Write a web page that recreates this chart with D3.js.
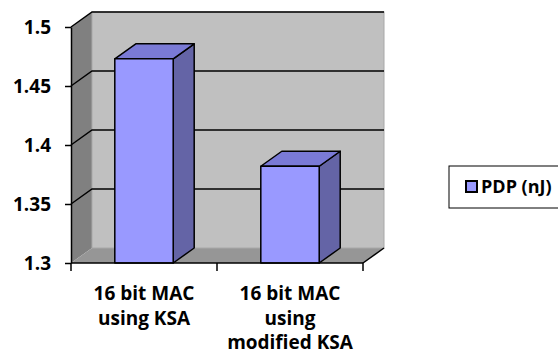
<!DOCTYPE html>
<html>
<head>
<meta charset="utf-8">
<script src="https://cdn.jsdelivr.net/npm/d3@7"></script>
<style>
    body { margin: 0; background: #fff; }
    text { font-family: "Open Sans", sans-serif; font-weight: bold; fill: #000; }
</style>
</head>
<body>
<svg id="chart" width="558" height="358"></svg>
<script>
    // chart data
    var categories = ["16 bit MAC using KSA", "16 bit MAC using modified KSA"];
    var categoryLines = [["16 bit MAC", "using KSA"], ["16 bit MAC", "using", "modified KSA"]];
    var pdpValues = [1.473, 1.382];
    var yTicks = [1.3, 1.35, 1.4, 1.45, 1.5];
    var seriesName = "PDP (nJ)";

    var svg = d3.select("#chart"),
        width = +svg.attr("width"),
        height = +svg.attr("height");

    // depth of the 3d box
    var dx = 21, dy = -15;
    var plotLeft = 71, plotRight = 363, plotTop = 27, plotBottom = 263;

    var y = d3.scaleLinear().domain([1.3, 1.5]).range([plotBottom, plotTop]);
    var x = d3.scaleBand().domain(categories).range([plotLeft, plotRight])
        .paddingInner(0.6).paddingOuter(0.3);

    svg.append("rect").attr("width", width).attr("height", height).style("fill", "#fff");

    function poly(pts) {
        return "M" + pts.map(function (p) { return p.join(","); }).join("L") + "Z";
    }

    var yMin = y.range()[0], yMax = y.range()[1];

    // walls and floor
    svg.append("path")
        .attr("d", poly([[plotLeft, yMax], [plotLeft + dx, yMax + dy], [plotLeft + dx, yMin + dy], [plotLeft, yMin]]))
        .style("fill", "#808080");
    svg.append("path")
        .attr("d", poly([[plotLeft, yMin], [plotLeft + dx, yMin + dy], [plotRight + dx, yMin + dy], [plotRight, yMin]]))
        .style("fill", "#969696");
    svg.append("rect")
        .attr("x", plotLeft + dx).attr("y", yMax + dy)
        .attr("width", plotRight - plotLeft).attr("height", yMin - yMax)
        .style("fill", "#c0c0c0")
        .style("stroke", "#a8a8a8")
        .style("stroke-width", 1);

    // gridlines on back wall + left wall
    var grid = svg.append("g").style("stroke", "#000").style("stroke-width", 1.5).style("fill", "none");
    grid.selectAll("path.grid")
        .data(yTicks.filter(function (d) { return d > 1.3; }))
        .enter().append("path")
        .attr("class", "grid")
        .attr("d", function (d) {
            return "M" + plotLeft + "," + y(d) + "L" + (plotLeft + dx) + "," + (y(d) + dy) +
                "L" + (plotRight + dx) + "," + (y(d) + dy);
        });
    grid.append("path")
        .attr("d", "M" + plotRight + "," + yMin + "L" + (plotRight + dx) + "," + (yMin + dy));

    // bars
    var bars = svg.append("g").selectAll("g.bar")
        .data(pdpValues)
        .enter().append("g")
        .attr("class", "bar")
        .style("stroke", "#000")
        .style("stroke-width", 1.5)
        .style("stroke-linejoin", "round");

    bars.append("path")
        .attr("d", function (d, i) {
            var x0 = x(categories[i]) + x.bandwidth(), y0 = y(d);
            return poly([[x0, y0], [x0 + dx, y0 + dy], [x0 + dx, yMin + dy], [x0, yMin]]);
        })
        .style("fill", "#6464a6");
    bars.append("path")
        .attr("d", function (d, i) {
            var x0 = x(categories[i]), x1 = x0 + x.bandwidth(), y0 = y(d);
            return poly([[x0, y0], [x0 + dx, y0 + dy], [x1 + dx, y0 + dy], [x1, y0]]);
        })
        .style("fill", "#7a7ad6");
    bars.append("rect")
        .attr("x", function (d, i) { return x(categories[i]); })
        .attr("y", function (d) { return y(d); })
        .attr("width", x.bandwidth())
        .attr("height", function (d) { return yMin - y(d); })
        .style("fill", "#9999ff");

    // y axis
    var yAxis = svg.append("g")
        .attr("transform", "translate(" + plotLeft + ",0)")
        .call(d3.axisLeft(y).tickValues(yTicks).tickSize(6).tickSizeOuter(0)
            .tickFormat(function (d) { return d; }));
    yAxis.attr("font-family", null).attr("font-size", null);
    yAxis.select(".domain").style("stroke", "#000").style("stroke-width", 1.5);
    yAxis.selectAll(".tick line").style("stroke", "#000").style("stroke-width", 1.5);
    yAxis.selectAll(".tick text")
        .attr("x", -20)
        .attr("dy", "0.36em")
        .style("font-size", "19px");

    // x axis, ticks on category boundaries
    var xAxis = svg.append("g");
    xAxis.append("line")
        .attr("x1", plotLeft).attr("x2", plotRight)
        .attr("y1", yMin).attr("y2", yMin)
        .style("stroke", "#000").style("stroke-width", 1.5);
    var bounds = [plotLeft].concat(categories.map(function (c) {
        return x(c) + x.bandwidth() + x.step() * x.paddingInner() / 2;
    }));
    bounds[bounds.length - 1] = plotRight;
    xAxis.selectAll("line.tick")
        .data(bounds)
        .enter().append("line")
        .attr("class", "tick")
        .attr("x1", function (d) { return d; }).attr("x2", function (d) { return d; })
        .attr("y1", yMin).attr("y2", yMin + 8)
        .style("stroke", "#000").style("stroke-width", 1.5);

    xAxis.selectAll("text.cat")
        .data(categories)
        .enter().append("text")
        .attr("class", "cat")
        .attr("text-anchor", "middle")
        .style("font-size", "19px")
        .attr("transform", function (d) {
            return "translate(" + (x(d) + x.bandwidth() / 2) + "," + (yMin + 37) + ")";
        })
        .selectAll("tspan")
        .data(function (d, i) { return categoryLines[i]; })
        .enter().append("tspan")
        .attr("x", 0)
        .attr("dy", function (d, i) { return i === 0 ? 0 : 24.5; })
        .text(function (d) { return d; });

    // legend
    var legend = svg.append("g").attr("transform", "translate(449,166)");
    legend.append("rect")
        .attr("width", 120).attr("height", 42)
        .style("fill", "#fff").style("stroke", "#000").style("stroke-width", 1);
    legend.append("rect")
        .attr("x", 17).attr("y", 15).attr("width", 11).attr("height", 11)
        .style("fill", "#9999ff").style("stroke", "#000").style("stroke-width", 2);
    legend.append("text")
        .attr("x", 32).attr("y", 27)
        .style("font-size", "18px")
        .text(seriesName);
</script>
</body>
</html>
